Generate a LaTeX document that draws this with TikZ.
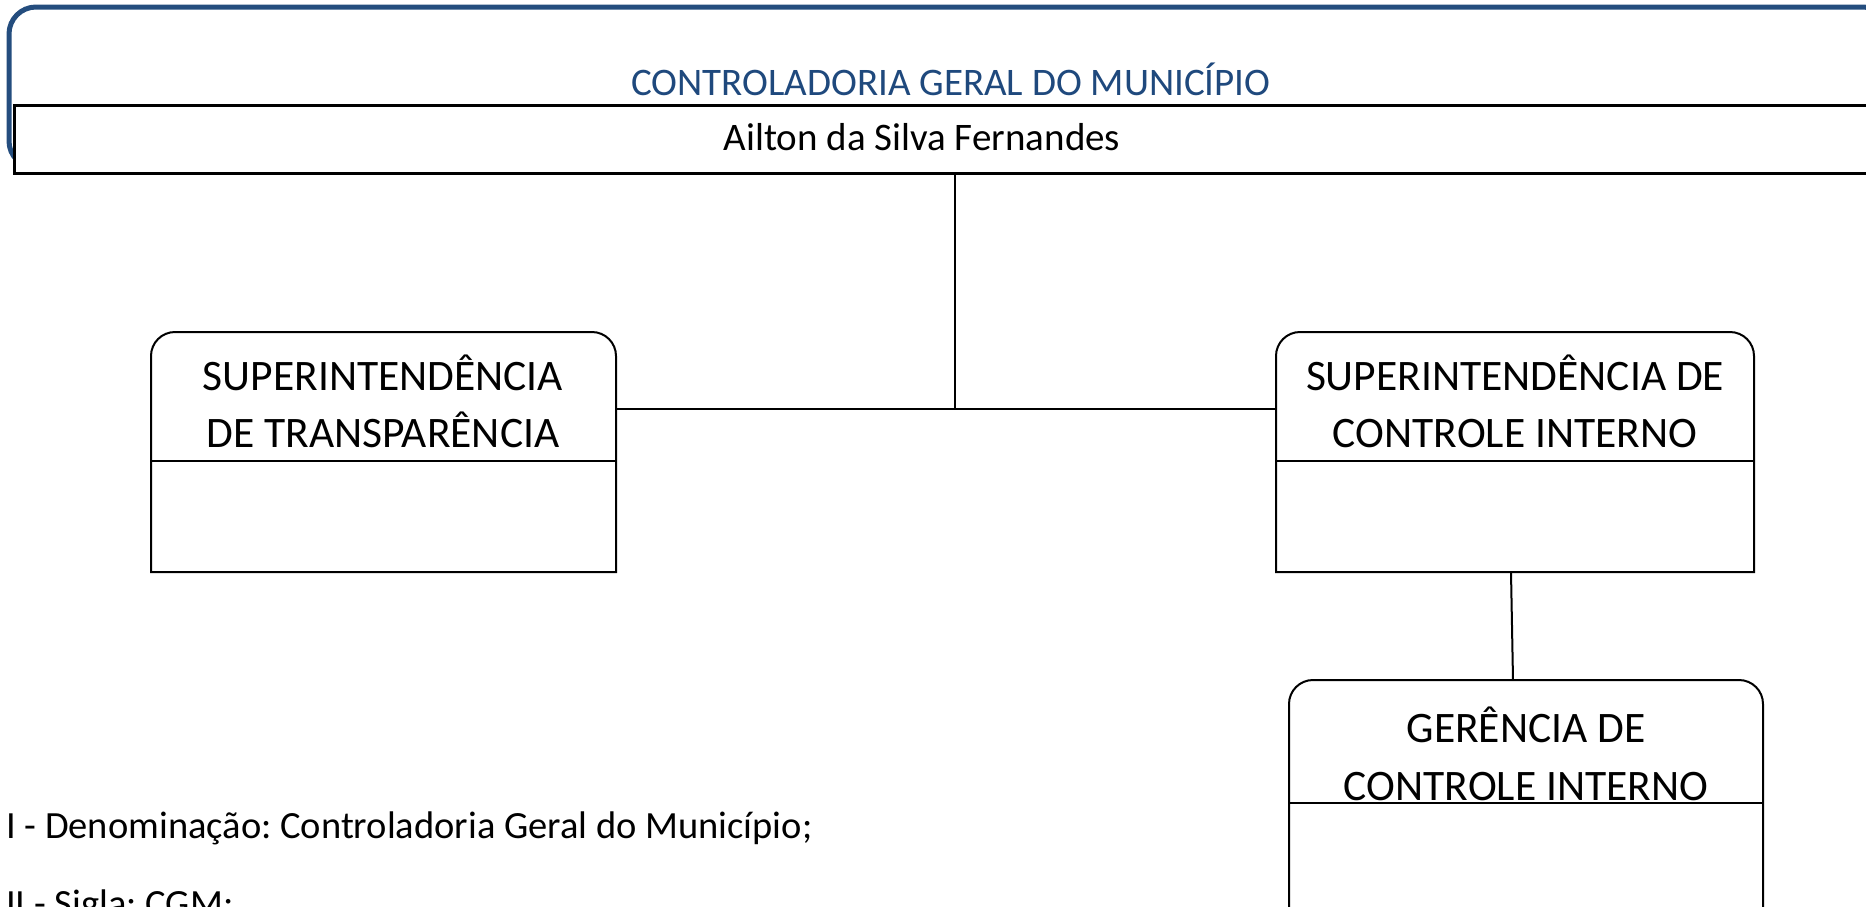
\documentclass[tikz,border=0pt]{standalone}
\usepackage{fontspec}
\setmainfont{Carlito}
\usetikzlibrary{calc}
\frenchspacing
\definecolor{hdrblue}{HTML}{1F497D}
\definecolor{frameblue}{HTML}{244D7E}
\tikzset{
  boxnode/.style={draw=none, inner sep=0pt, outer sep=0pt, rectangle},
  boxline/.style={draw=black, line width=2pt},
  conn/.style={draw=black, line width=2pt},
  boxtext/.style={anchor=base, inner sep=0pt, font=\fontsize{43.5}{52}\selectfont},
  nametext/.style={anchor=base, inner sep=0pt, font=\fontsize{39}{47}\selectfont},
  titletext/.style={anchor=base, inner sep=0pt, text=hdrblue, font=\fontsize{39}{47}\selectfont},
  notetext/.style={anchor=base west, inner sep=0pt, font=\fontsize{38.5}{46}\selectfont},
}
\newcommand\orgbox[6]{%
  \node[boxnode, minimum width={#4-#2}, minimum height={#5-#3}, anchor=north west] (#1) at (#2,#3) {};
  \draw[boxline] (#1.south west) -- ([yshift=-24pt]#1.north west)
     arc[start angle=180, end angle=90, radius=24pt]
     -- ([xshift=-24pt]#1.north east)
     arc[start angle=90, end angle=0, radius=24pt]
     -- (#1.south east) -- cycle;
  \draw[boxline] (#1.west |- 0,#6) -- (#1.east |- 0,#6);
}
\begin{document}
\begin{tikzpicture}[x=1pt, y=-1pt]
\useasboundingbox (0,0) rectangle (1866,906);
\clip (0,0) rectangle (1866,906);
% header frame
\draw[frameblue, line width=5pt, rounded corners=27pt] (9,7) rectangle (1890,168);
\node[titletext] (title) at (951,95) {CONTROLADORIA GERAL DO MUNICÍPIO};
% name box
\node[draw=black, fill=white, line width=2.5pt, inner sep=0pt, minimum width=1900pt, minimum height=68pt, anchor=north west] (nm) at (13,104) {};
\node[nametext] (nmtext) at (922,150) {Ailton da Silva Fernandes};
% boxes
\orgbox{st}{151}{332}{616}{572}{461}
\orgbox{sc}{1276}{332}{1754}{572}{461}
\orgbox{gc}{1289}{680}{1763}{1000}{803}
\node[boxtext] (st1) at (383,390) {SUPERINTENDÊNCIA};
\node[boxtext] (st2) at (383,447) {DE TRANSPARÊNCIA};
\node[boxtext] (sc1) at (1515,390) {SUPERINTENDÊNCIA DE};
\node[boxtext] (sc2) at (1515,447) {CONTROLE INTERNO};
\node[boxtext] (gc1) at (1526,742) {GERÊNCIA DE};
\node[boxtext] (gc2) at (1526,800) {CONTROLE INTERNO};
% connectors
\coordinate (j) at (955,409);
\draw[conn] (j |- nm.south) -- (j);
\draw[conn] (st.east |- j) -- (sc.west |- j);
\draw[conn] ([xshift=-4pt]sc.south) -- ([xshift=-13pt]gc.north);
% notes
\node[notetext] (n1) at (6,838) {I - Denominação: Controladoria Geral do Município;};
\node[notetext] (n2) at (6,916) {II - Sigla: CGM;};
\end{tikzpicture}
\end{document}
